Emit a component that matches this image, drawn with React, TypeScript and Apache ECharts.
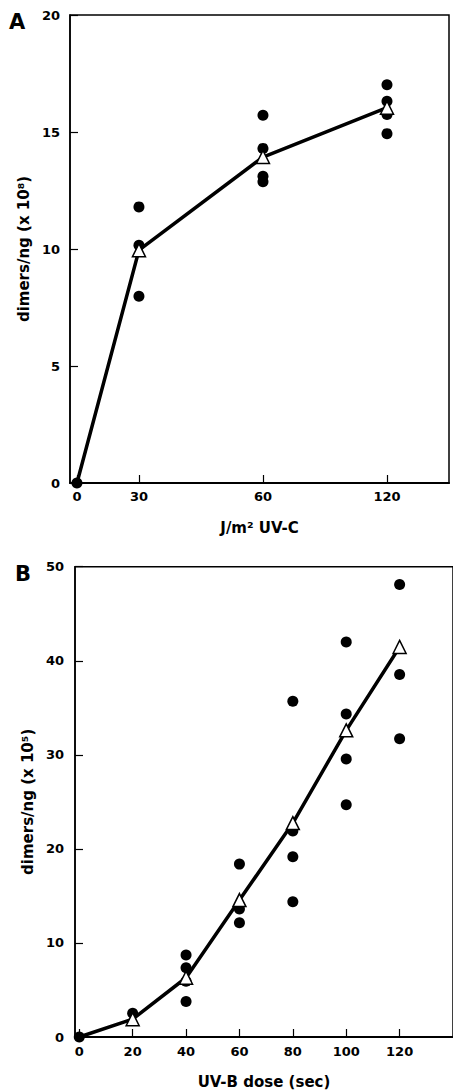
import React, { useEffect, useRef } from "react";
import * as echarts from "echarts";

// ---- Panel A: UV-C dose (J/m2) vs dimers/ng (x 10^8) ----
const doseA = [0, 30, 60, 120];
// the dose axis of panel A is not linear: each tick sits at its own break on the axis scale
const axisBreaksA = [0, 0.5, 1.5, 2.5];
const meanA = [0, 9.95, 13.93, 16.04];
const repsA = [
  [0],
  [11.8, 10.16, 7.98],
  [15.72, 14.3, 13.11, 12.87],
  [17.02, 16.31, 15.75, 14.93],
];
const yTicksA = [0, 5, 10, 15, 20];

// ---- Panel B: UV-B dose (sec) vs dimers/ng (x 10^5) ----
const doseB = [0, 20, 40, 60, 80, 100, 120];
const meanB = [0, 1.9, 6.3, 14.56, 22.74, 32.6, 41.47];
const repsB = [
  [0],
  [2.53],
  [8.72, 7.36, 5.92, 3.78],
  [18.38, 13.6, 12.15],
  [35.7, 21.9, 19.16, 14.37],
  [42.0, 34.35, 29.56, 24.69],
  [48.1, 38.55, 31.7],
];
const yTicksB = [0, 10, 20, 30, 40, 50];

const FONT = "DejaVu Sans";

const toAxisA = (d: number) => axisBreaksA[doseA.indexOf(d)];

export default function App() {
  const ref = useRef<HTMLDivElement>(null);
  useEffect(() => {
    if (!ref.current) return;
    const chart = echarts.init(ref.current, undefined, { renderer: "svg" });

    const lbl = { fontFamily: FONT, fontWeight: "bold" as const, fontSize: 13, color: "#000" };
    const nameStyle = { fontFamily: FONT, fontWeight: "bold" as const, fontSize: 15, color: "#000" };

    const dotsA: number[][] = [];
    repsA.forEach((vals, i) => vals.forEach((v) => dotsA.push([toAxisA(doseA[i]), v])));
    const dotsB: number[][] = [];
    repsB.forEach((vals, i) => vals.forEach((v) => dotsB.push([doseB[i], v])));

    const lineA = doseA.map((d, i) => [toAxisA(d), meanA[i]]);
    const triA = lineA.slice(1);
    const lineB = doseB.map((d, i) => [d, meanB[i]]);
    const triB = lineB.slice(1);

    const axisLine = { show: true, onZero: false, lineStyle: { color: "#000", width: 2 } };
    const yAxisLine = { show: true, onZero: false, lineStyle: { color: "#000", width: 1.5 } };
    const tick = { show: true, inside: true, length: 8, lineStyle: { color: "#000", width: 1.2 } };
    const dotStyle = { color: "#000", opacity: 1 };
    const triStyle = { color: "#fff", borderColor: "#000", borderWidth: 1.5, opacity: 1 };

    chart.setOption({
      animation: false,
      backgroundColor: "#fff",
      grid: [
        { left: 70, top: 15, right: 4, bottom: 607, show: true, borderColor: "#000", borderWidth: 1.5 },
        { left: 75, top: 566.7, right: -3.6, bottom: 53, show: true, borderColor: "#000", borderWidth: 1.5 },
      ],
      xAxis: [
        {
          type: "value",
          gridIndex: 0,
          min: -0.056,
          max: 3.0,
          name: "J/m² UV-C",
          nameLocation: "middle",
          nameGap: 37,
          nameTextStyle: nameStyle,
          axisLine,
          axisTick: { ...tick, customValues: axisBreaksA },
          axisLabel: {
            ...lbl,
            margin: 7,
            customValues: axisBreaksA,
            formatter: (v: number) => {
              const i = axisBreaksA.findIndex((p) => Math.abs(p - v) < 1e-6);
              return i >= 0 ? String(doseA[i]) : "";
            },
          },
          splitLine: { show: false },
        },
        {
          type: "value",
          gridIndex: 1,
          min: -1.6,
          max: 140,
          name: "UV-B dose (sec)",
          nameLocation: "middle",
          nameGap: 37,
          nameTextStyle: nameStyle,
          axisLine,
          axisTick: { ...tick, customValues: doseB },
          axisLabel: { ...lbl, margin: 8, customValues: doseB },
          splitLine: { show: false },
        },
      ],
      yAxis: [
        {
          type: "value",
          gridIndex: 0,
          min: yTicksA[0],
          max: yTicksA[yTicksA.length - 1],
          interval: yTicksA[1] - yTicksA[0],
          name: "dimers/ng (x 10⁸)",
          nameLocation: "middle",
          nameGap: 37,
          nameTextStyle: nameStyle,
          axisLine: yAxisLine,
          axisTick: tick,
          axisLabel: { ...lbl, margin: 10 },
          splitLine: { show: false },
        },
        {
          type: "value",
          gridIndex: 1,
          min: yTicksB[0],
          max: yTicksB[yTicksB.length - 1],
          interval: yTicksB[1] - yTicksB[0],
          name: "dimers/ng (x 10⁵)",
          nameLocation: "middle",
          nameGap: 40,
          nameTextStyle: nameStyle,
          axisLine: yAxisLine,
          axisTick: tick,
          axisLabel: { ...lbl, margin: 11 },
          splitLine: { show: false },
        },
      ],
      graphic: [
        { type: "text", left: 9, top: 11, style: { text: "A", font: `bold 21px "${FONT}"`, fill: "#000" } },
        { type: "text", left: 15, top: 563, style: { text: "B", font: `bold 21px "${FONT}"`, fill: "#000" } },
      ],
      series: [
        {
          type: "line",
          xAxisIndex: 0,
          yAxisIndex: 0,
          data: lineA,
          symbol: "none",
          lineStyle: { color: "#000", width: 3.5 },
          z: 2,
        },
        {
          type: "scatter",
          xAxisIndex: 0,
          yAxisIndex: 0,
          data: dotsA,
          symbol: "circle",
          symbolSize: 11,
          itemStyle: dotStyle,
          z: 3,
        },
        {
          type: "scatter",
          xAxisIndex: 0,
          yAxisIndex: 0,
          data: triA,
          symbol: "triangle",
          symbolSize: 13,
          itemStyle: triStyle,
          z: 4,
        },
        {
          type: "line",
          xAxisIndex: 1,
          yAxisIndex: 1,
          data: lineB,
          symbol: "none",
          lineStyle: { color: "#000", width: 3.5 },
          z: 2,
        },
        {
          type: "scatter",
          xAxisIndex: 1,
          yAxisIndex: 1,
          data: dotsB,
          symbol: "circle",
          symbolSize: 11,
          itemStyle: dotStyle,
          z: 3,
        },
        {
          type: "scatter",
          xAxisIndex: 1,
          yAxisIndex: 1,
          data: triB,
          symbol: "triangle",
          symbolSize: 13,
          itemStyle: triStyle,
          z: 4,
        },
      ],
    });
    return () => chart.dispose();
  }, []);

  return (
    <div
      ref={ref}
      style={{ position: "absolute", left: 0, top: 0, width: 453, height: 1090, overflow: "hidden" }}
    />
  );
}
